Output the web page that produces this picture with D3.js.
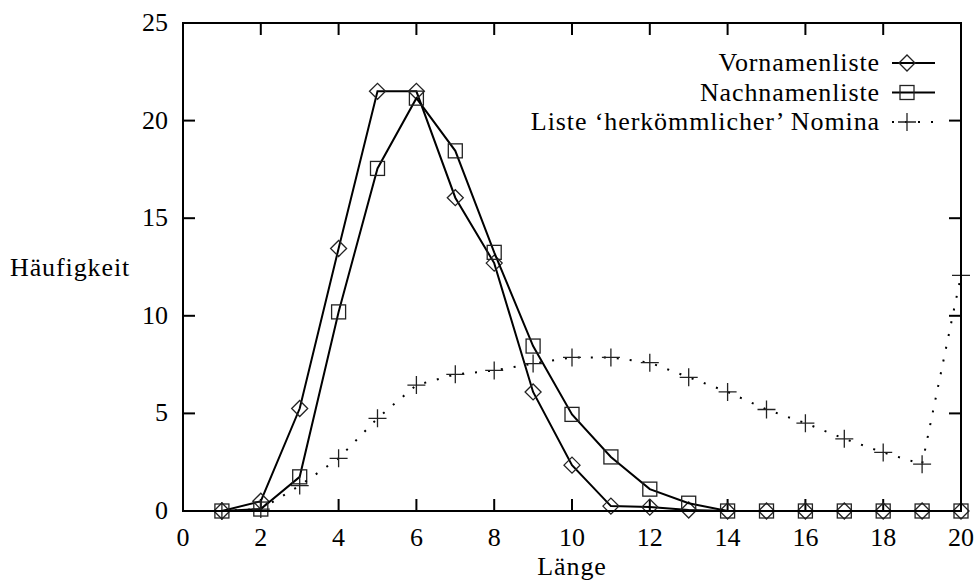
<!DOCTYPE html>
<html lang="de">
<head>
    <meta charset="UTF-8">
    <title>Häufigkeit nach Länge</title>
    <script src="https://d3js.org/d3.v7.min.js"></script>
    <style>
        body{ margin:0; background:#fff; }
        svg{ display:block; }
        text{ font-family: "Liberation Serif", serif; font-size: 26px; fill:#000; }
        .lab{ letter-spacing: 0.9px; }
    </style>
</head>
<body>
    <script>
        // Werte
        const laenge = [1,2,3,4,5,6,7,8,9,10,11,12,13,14,15,16,17,18,19,20]
        const vornamen  = [0,0.5,5.25,13.45,21.5,21.5,16.05,12.7,6.1,2.35,0.25,0.2,0.05,0,0,0,0,0,0,0]
        const nachnamen = [0,0.1,1.75,10.2,17.55,21.15,18.45,13.25,8.45,4.95,2.77,1.12,0.4,0,0,0,0,0,0,0]
        const nomina    = [0,0.1,1.3,2.7,4.75,6.45,7.0,7.2,7.55,7.87,7.87,7.6,6.85,6.1,5.2,4.5,3.7,3.0,2.4,12.07]
        const xTicks = [0,2,4,6,8,10,12,14,16,18,20]
        const yTicks = [0,5,10,15,20,25]
        const seriesNames = ["Vornamenliste","Nachnamenliste","Liste \u2018herkömmlicher\u2019 Nomina"]

        const width = 975, height = 581
        const margin = {top:23, left:183, bottom:70, right:14}

        const svg = d3.select("body").append("svg")
            .attr("width",width).attr("height",height)

        const x = d3.scaleLinear().domain([0,20]).range([margin.left,width-margin.right])
        const y = d3.scaleLinear().domain([0,25]).range([height-margin.bottom,margin.top])

        const tick = 12
        // ticks, inward and mirrored like gnuplot
        const tg = svg.append("g").attr("stroke","#000").attr("stroke-width",2)
        xTicks.forEach(t=>{
            tg.append("line").attr("x1",x(t)).attr("x2",x(t)).attr("y1",y(0)).attr("y2",y(0)-tick)
            tg.append("line").attr("x1",x(t)).attr("x2",x(t)).attr("y1",y(25)).attr("y2",y(25)+tick)
        })
        yTicks.forEach(t=>{
            tg.append("line").attr("x1",x(0)).attr("x2",x(0)+tick).attr("y1",y(t)).attr("y2",y(t))
            tg.append("line").attr("x1",x(20)).attr("x2",x(20)-tick).attr("y1",y(t)).attr("y2",y(t))
        })

        svg.append("g").selectAll("text").data(xTicks).join("text")
            .attr("x",d=>x(d)).attr("y",y(0)+35)
            .attr("text-anchor","middle").text(d=>d)
        svg.append("g").selectAll("text").data(yTicks).join("text")
            .attr("x",x(0)-15).attr("y",d=>y(d)+8)
            .attr("text-anchor","end").text(d=>d)

        svg.append("text").attr("class","lab").attr("x",(x(0)+x(20))/2).attr("y",height-6)
            .attr("text-anchor","middle").text("Länge")
        svg.append("text").attr("class","lab").attr("x",10).attr("y",(y(0)+y(25))/2+9).text("Häufigkeit")

        // markers
        function diamond(g,cx,cy){
            const r = 8
            g.append("path").attr("d",`M${cx-r},${cy}L${cx},${cy-r}L${cx+r},${cy}L${cx},${cy+r}Z`)
                .attr("fill","none").attr("stroke","#222").attr("stroke-width",1.3)
        }
        function square(g,cx,cy){
            const r = 7
            g.append("rect").attr("x",cx-r).attr("y",cy-r).attr("width",2*r).attr("height",2*r)
                .attr("fill","none").attr("stroke","#222").attr("stroke-width",1.3)
        }
        function plus(g,cx,cy){
            const r = 9
            g.append("path").attr("d",`M${cx-r},${cy}H${cx+r}M${cx},${cy-r}V${cy+r}`)
                .attr("fill","none").attr("stroke","#222").attr("stroke-width",1.3)
        }

        const series = [
            {name:seriesNames[0], values:vornamen, mark:diamond, dash:null},
            {name:seriesNames[1], values:nachnamen, mark:square, dash:null},
            {name:seriesNames[2], values:nomina, mark:plus, dash:"2,11"}
        ]

        const line = d3.line().x(d=>x(d[0])).y(d=>y(d[1]))

        series.forEach((s,i)=>{
            const pts = laenge.map((l,j)=>[l,s.values[j]])
            svg.append("path").attr("d",line(pts))
                .attr("fill","none").attr("stroke","#000").attr("stroke-width",2)
                .attr("stroke-dasharray",s.dash)
            const g = svg.append("g")
            pts.forEach(p=> s.mark(g,x(p[0]),y(p[1])))

            // legend entry
            const ly = 63 + i*29.5
            svg.append("text").attr("class","lab").attr("x",880).attr("y",ly+8)
                .attr("text-anchor","end").text(s.name)
            svg.append("line").attr("x1",892).attr("x2",935).attr("y1",ly).attr("y2",ly)
                .attr("stroke","#000").attr("stroke-width",2).attr("stroke-dasharray",s.dash)
            s.mark(svg,907,ly)
        })

        // border
        svg.append("rect").attr("x",x(0)).attr("y",y(25))
            .attr("width",x(20)-x(0)).attr("height",y(0)-y(25))
            .attr("fill","none").attr("stroke","#000").attr("stroke-width",2)
    </script>
</body>
</html>
